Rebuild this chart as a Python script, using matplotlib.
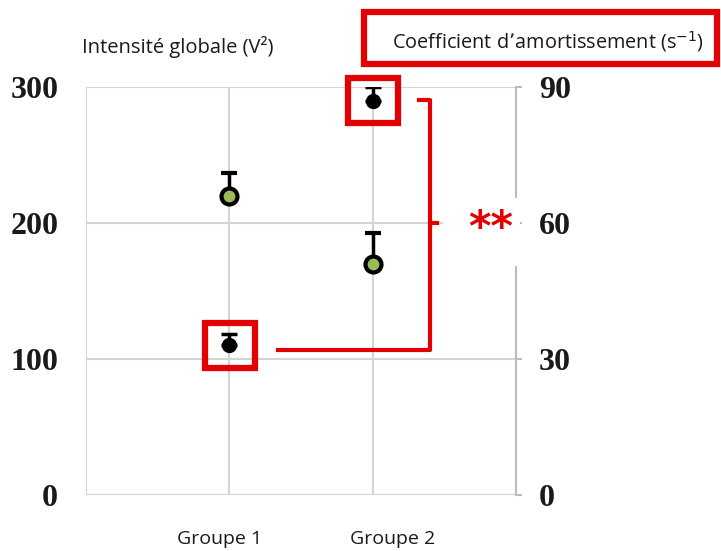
import matplotlib
matplotlib.use("Agg")
import matplotlib.pyplot as plt
from matplotlib.patches import Rectangle
from matplotlib.transforms import blended_transform_factory

# group positions on the x axis
groups = ["Groupe 1", "Groupe 2"]
group_x = [1, 2]

# global intensity (V^2), left axis
intensity = [220, 170]
intensity_err = [17, 23]

# damping coefficient (s^-1), right axis
damping = [33, 87]
damping_err = [2.5, 3]

left_ticks = [0, 100, 200, 300]
right_ticks = [0, 30, 60, 90]

W, H = 721, 551
RED = "#e30000"
GRID = "#d4d4d4"


def fx(px):
    return px / W


def fy(py):
    return 1 - py / H


fig = plt.figure(figsize=(W / 100, H / 100), dpi=100)
ax = fig.add_axes([fx(86), fy(495), fx(516) - fx(86), fy(87) - fy(495)])
ax2 = ax.twinx()

ax.set_xlim(0, 3)
ax.set_ylim(0, 300)
ax2.set_ylim(0, 90)

ax.set_xticks([0, 1, 2, 3])
ax.set_yticks(left_ticks)
ax2.set_yticks(right_ticks)
ax.grid(True, color=GRID, lw=1.5)
ax.set_axisbelow(True)
ax.tick_params(axis="x", length=0, labelbottom=False)
ax.tick_params(axis="y", length=0, pad=20)
ax2.tick_params(axis="y", length=4.5, width=1.5, color="#bdbdbd", pad=12)
for a in (ax, ax2):
    for s in a.spines.values():
        s.set_visible(False)
ax2.spines["right"].set_visible(True)
ax2.spines["right"].set_color("#bdbdbd")
ax2.spines["right"].set_linewidth(1.5)

tick_font = dict(family="Liberation Serif", weight="bold", size=23, color="#1a1a1a")
ax.set_yticklabels([str(v) for v in left_ticks], **tick_font)
ax2.set_yticklabels([str(v) for v in right_ticks], **tick_font)

# intensity points (green) and damping points (black), upper error only
ax.errorbar(group_x, intensity, yerr=[[0, 0], intensity_err], fmt="o",
            ms=11.5, mfc="#9bbb59", mec="black", mew=3, ecolor="black",
            elinewidth=2.5, capsize=5.5, capthick=2.5, zorder=3)
ax2.errorbar(group_x, damping, yerr=[[0, 0], damping_err], fmt="o",
             ms=10, mfc="black", mec="black", ecolor="black",
             elinewidth=2.5, capsize=5.5, capthick=2.5, zorder=3)

# red boxes around the damping points
for x, y in zip(group_x, damping):
    ax2.add_patch(Rectangle((x - 0.17, y - 5), 0.35, 10, fill=False,
                            ec=RED, lw=4.5, clip_on=False, zorder=5))

# significance bracket
ax.plot([1.34, 2.40, 2.40, 2.32], [106.5, 106.5, 290.5, 290.5],
        color=RED, lw=3, clip_on=False, solid_joinstyle="round", zorder=5)
ax.plot([2.40, 2.45], [200, 200], color=RED, lw=3, clip_on=False, zorder=5)

# white panel behind the stars, interrupting the grid and right spine
fig.add_artist(Rectangle((fx(443), fy(266)), fx(520) - fx(443), fy(198) - fy(266),
                         transform=fig.transFigure, fc="white", ec="none", zorder=10))
fig.text(fx(491), fy(229), "**", color=RED, fontsize=31, weight="bold",
         style="italic", ha="center", va="center", zorder=11)

# group labels under the axis
trans = blended_transform_factory(ax.transData, fig.transFigure)
for x, lab in zip([0.935, 2.14], groups):
    ax.text(x, fy(539), lab, transform=trans, ha="center", va="center",
            fontsize=14, family="Open Sans", color="#1a1a1a")

# axis titles
fig.text(fx(82), fy(47), "Intensité globale (V²)", fontsize=14.5,
         family="Open Sans", color="#1a1a1a", ha="left", va="center")
fig.add_artist(Rectangle((fx(364), fy(64)), fx(717) - fx(364), fy(12) - fy(64),
                         transform=fig.transFigure, fill=False, ec=RED, lw=4.5))
fig.text(fx(548), fy(42), "Coefficient d’amortissement (s$^{-1}$)", fontsize=14.3,
         family="Open Sans", color="#1a1a1a", ha="center", va="center")

fig.savefig("out.png", dpi=100)
